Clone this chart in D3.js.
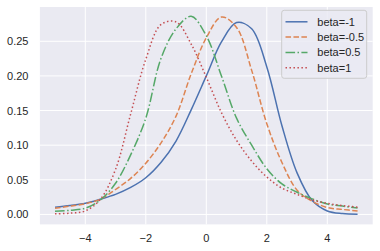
<!DOCTYPE html>
<html>
<head>
<meta charset="utf-8">
<script src="https://cdn.jsdelivr.net/npm/d3@7"></script>
<style>
  body { margin: 0; background: #fff; }
  svg { display: block; font-family: "Liberation Sans", Arial, sans-serif; }
</style>
</head>
<body>
<svg id="chart" width="380" height="251"></svg>
<script>
/* values, x from -5 to 5 every 0.5 */
var xs = [-5, -4.5, -4, -3.5, -3, -2.5, -2, -1.5, -1, -0.5, 0, 0.5, 1, 1.5, 2, 2.5, 3, 3.5, 4, 4.5, 5];

var betaMinus1 = [0.0105, 0.013, 0.016, 0.022, 0.029, 0.039, 0.053, 0.075, 0.106, 0.151, 0.200,
                  0.249, 0.277, 0.268, 0.213, 0.128, 0.060, 0.020, 0.005, 0.0012, 0.0003];
var betaMinusHalf = [0.009, 0.012, 0.0155, 0.022, 0.036, 0.052, 0.074, 0.103, 0.142, 0.203, 0.255,
                     0.285, 0.270, 0.208, 0.131, 0.075, 0.035, 0.019, 0.010, 0.0072, 0.005];
var betaHalf = [0.0045, 0.006, 0.009, 0.021, 0.045, 0.086, 0.139, 0.225, 0.268, 0.286, 0.258,
                0.200, 0.139, 0.100, 0.066, 0.044, 0.032, 0.0225, 0.015, 0.012, 0.0092];
var beta1 = [0.001, 0.0018, 0.005, 0.022, 0.065, 0.145, 0.224, 0.274, 0.278, 0.246, 0.198,
             0.147, 0.107, 0.077, 0.054, 0.038, 0.029, 0.021, 0.016, 0.0128, 0.0105];

var labels = ["beta=-1", "beta=-0.5", "beta=0.5", "beta=1"];
var xTicks = [-4, -2, 0, 2, 4];
var yTicks = [0, 0.05, 0.10, 0.15, 0.20, 0.25];

var series = [
    {name: labels[0], values: betaMinus1, color: "#4C72B0", dash: null},
    {name: labels[1], values: betaMinusHalf, color: "#DD8452", dash: "5.55,2.4"},
    {name: labels[2], values: betaHalf, color: "#55A868", dash: "9.6,2.4,1.5,2.4"},
    {name: labels[3], values: beta1, color: "#C44E52", dash: "1.5,2.475"}
];

var svg = d3.select("#chart");
// plot box (window.top is reserved, so no "top" here)
var box = {l: 39.9, r: 372.7, t: 7, b: 224.4};

var x = d3.scaleLinear().domain([-5.5, 5.5]).range([box.l, box.r]);
var y = d3.scaleLinear().domain([-0.0144, 0.2995]).range([box.b, box.t]);

// axes background
svg.append("rect")
    .attr("x", box.l).attr("y", box.t)
    .attr("width", box.r - box.l).attr("height", box.b - box.t)
    .attr("fill", "#EAEAF2");

// grid
var grid = svg.append("g");
grid.selectAll(".gx").data(xTicks).enter().append("line")
    .attr("x1", function (d) { return x(d); })
    .attr("x2", function (d) { return x(d); })
    .attr("y1", box.t).attr("y2", box.b)
    .attr("stroke", "#fff").attr("stroke-width", 1);
grid.selectAll(".gy").data(yTicks).enter().append("line")
    .attr("y1", function (d) { return y(d); })
    .attr("y2", function (d) { return y(d); })
    .attr("x1", box.l).attr("x2", box.r)
    .attr("stroke", "#fff").attr("stroke-width", 1);

// tick labels
svg.append("g").selectAll("text").data(xTicks).enter().append("text")
    .attr("x", function (d) { return x(d); })
    .attr("y", 241.6)
    .attr("text-anchor", "middle")
    .attr("font-size", 11)
    .attr("fill", "#262626")
    .text(function (d) { return d < 0 ? "\u2212" + Math.abs(d) : d; });

svg.append("g").selectAll("text").data(yTicks).enter().append("text")
    .attr("x", 28.5)
    .attr("y", function (d) { return y(d); })
    .attr("dy", "0.36em")
    .attr("text-anchor", "end")
    .attr("font-size", 11)
    .attr("fill", "#262626")
    .text(d3.format(".2f"));

// curves
var line = d3.line()
    .x(function (d, i) { return x(xs[i]); })
    .y(function (d) { return y(d); })
    .curve(d3.curveCatmullRom.alpha(0.5));

svg.append("g").selectAll("path").data(series).enter().append("path")
    .attr("d", function (s) { return line(s.values); })
    .attr("fill", "none")
    .attr("stroke", function (s) { return s.color; })
    .attr("stroke-width", 1.5)
    .attr("stroke-dasharray", function (s) { return s.dash; });

// legend
var lg = svg.append("g");
lg.append("rect")
    .attr("x", 281.7).attr("y", 10.3)
    .attr("width", 85).attr("height", 68)
    .attr("rx", 2.5)
    .attr("fill", "#EAEAF2").attr("fill-opacity", 0.8)
    .attr("stroke", "#CCCCCC").attr("stroke-width", 1);

var rows = lg.selectAll(".row").data(series).enter().append("g")
    .attr("transform", function (d, i) { return "translate(0," + (21.8 + i * 15.3) + ")"; });
rows.append("line")
    .attr("x1", 285.5).attr("x2", 307.5)
    .attr("y1", 0).attr("y2", 0)
    .attr("stroke", function (s) { return s.color; })
    .attr("stroke-width", 1.5)
    .attr("stroke-dasharray", function (s) { return s.dash; });
rows.append("text")
    .attr("x", 317.3).attr("y", 0)
    .attr("dy", "0.36em")
    .attr("font-size", 11)
    .attr("fill", "#262626")
    .text(function (s) { return s.name; });
</script>
</body>
</html>
